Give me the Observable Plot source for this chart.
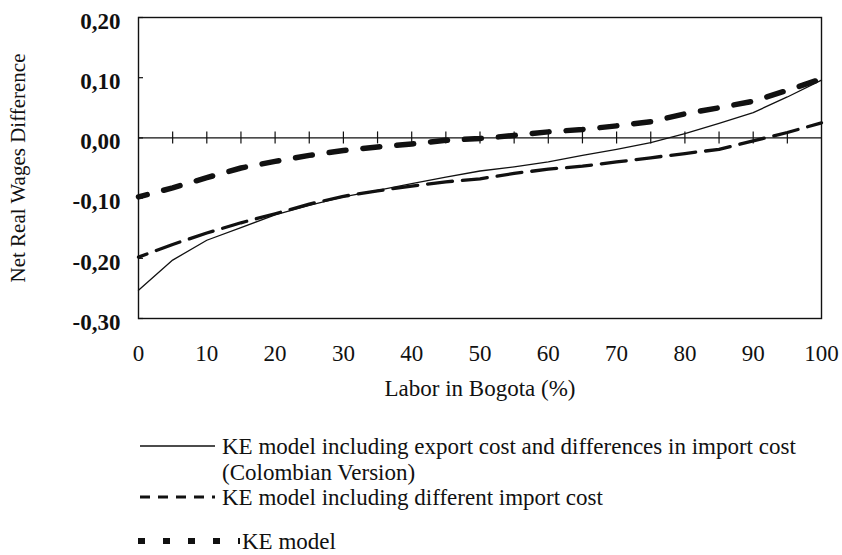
<!DOCTYPE html>
<html>
<head>
<meta charset="utf-8">
<script src="https://cdn.jsdelivr.net/npm/d3@7"></script>
<script src="https://cdn.jsdelivr.net/npm/@observablehq/plot@0.6"></script>
<style>
  body { margin: 0; background: #fff; }
  #wrap { position: relative; width: 842px; height: 555px; font-family: "Liberation Serif", "Times New Roman", serif; color: #111; }
  #legend { position: absolute; left: 0; top: 0; }
</style>
</head>
<body>
<div id="wrap"><div id="chart"></div><svg id="legend" width="842" height="555"></svg></div>
<script>
// ---- data ----
const labor = [0, 5, 10, 15, 20, 25, 30, 35, 40, 45, 50, 55, 60, 65, 70, 75, 80, 85, 90, 95, 100];
const exportCost = [-0.253, -0.203, -0.170, -0.149, -0.128, -0.112, -0.098, -0.087, -0.076, -0.065, -0.055, -0.048, -0.040, -0.029, -0.019, -0.008, 0.007, 0.024, 0.042, 0.068, 0.096];
const importCost = [-0.198, -0.177, -0.158, -0.141, -0.126, -0.110, -0.097, -0.088, -0.080, -0.073, -0.068, -0.059, -0.052, -0.047, -0.040, -0.033, -0.026, -0.019, -0.005, 0.009, 0.025];
const keModel = [-0.098, -0.083, -0.066, -0.050, -0.039, -0.029, -0.021, -0.015, -0.010, -0.004, -0.001, 0.004, 0.010, 0.014, 0.020, 0.027, 0.040, 0.050, 0.061, 0.079, 0.098];

const xTicks = [0, 10, 20, 30, 40, 50, 60, 70, 80, 90, 100];
const zeroLineTicks = [5, 10, 15, 20, 25, 30, 35, 40, 45, 50, 55, 60, 65, 70, 75, 80, 85, 90, 95];
const yTicks = [0.2, 0.1, 0, -0.1, -0.2, -0.3];

const yTitle = "Net Real Wages Difference";
const xTitle = "Labor in Bogota (%)";
const seriesNames = [
  "KE model including export cost and differences in import cost",
  "(Colombian Version)",
  "KE model including different import cost",
  "KE model"
];

const rows = labor.map((x, i) => ({x, exp: exportCost[i], imp: importCost[i], ke: keModel[i]}));
const fmt = d => d.toFixed(2).replace(".", ",");
const ink = "#111";

const chart = Plot.plot({
  width: 842,
  height: 420,
  marginLeft: 138,
  marginRight: 21,
  marginTop: 17,
  marginBottom: 102,
  style: {fontFamily: "Liberation Serif, Times New Roman, serif", fontSize: "23px", color: ink, background: "white", overflow: "visible"},
  x: {domain: [0, 100]},
  y: {domain: [-0.3, 0.2]},
  marks: [
    Plot.frame({stroke: ink, strokeWidth: 1.4}),
    Plot.ruleY([0], {stroke: ink, strokeWidth: 1.3}),
    Plot.ruleX(zeroLineTicks, {x: d => d, y1: 0, y2: 0, insetTop: -6, insetBottom: -6, stroke: ink, strokeWidth: 1.2}),
    Plot.ruleY(yTicks, {y: d => d, x1: 0, x2: 0, insetRight: -5, stroke: ink, strokeWidth: 1.2}),
    Plot.axisX({ticks: xTicks, tickSize: 0, tickPadding: 26, tickFormat: d => String(d), fontSize: 23, label: null}),
    Plot.axisY({ticks: yTicks, tickSize: 0, tickPadding: 18, tickFormat: fmt, dy: 4, fontSize: 23, fontWeight: "bold", label: null}),
    Plot.line(rows, {x: "x", y: "exp", stroke: ink, strokeWidth: 1.3}),
    Plot.line(rows, {x: "x", y: "imp", stroke: ink, strokeWidth: 3.3, strokeDasharray: "25,10", strokeDashoffset: 16}),
    Plot.line(rows, {x: "x", y: "ke", stroke: ink, strokeWidth: 5.5, strokeDasharray: "17,17", strokeDashoffset: 8}),
    Plot.text([yTitle], {text: d => d, frameAnchor: "left", dx: -120, rotate: -90, textAnchor: "middle", lineAnchor: "middle", fontSize: 21, fill: ink}),
    Plot.text([xTitle], {text: d => d, frameAnchor: "bottom", dy: 70, textAnchor: "middle", lineAnchor: "middle", fontSize: 23, fill: ink})
  ]
});
document.getElementById("chart").appendChild(chart);

// ---- legend ----
const lg = d3.select("#legend").style("font-family", "Liberation Serif, Times New Roman, serif").style("font-size", "23px");
const items = [
  {y: 446, x1: 140, x2: 215, w: 1.3, dash: null, tx: 222, text: seriesNames[0]},
  {y: 472, x1: null, tx: 222, text: seriesNames[1]},
  {y: 497, x1: 140, x2: 215, w: 3, dash: "10,8", tx: 222, text: seriesNames[2]},
  {y: 541, x1: 138, x2: 240, w: 6, dash: "7,18", tx: 242, text: seriesNames[3]}
];
for (const it of items) {
  if (it.x1 != null) {
    const l = lg.append("line").attr("x1", it.x1).attr("x2", it.x2).attr("y1", it.y).attr("y2", it.y)
      .attr("stroke", ink).attr("stroke-width", it.w);
    if (it.dash) l.attr("stroke-dasharray", it.dash);
  }
  lg.append("text").attr("x", it.tx).attr("y", it.y).attr("dy", "0.33em").attr("fill", ink).text(it.text);
}
</script>
</body>
</html>
